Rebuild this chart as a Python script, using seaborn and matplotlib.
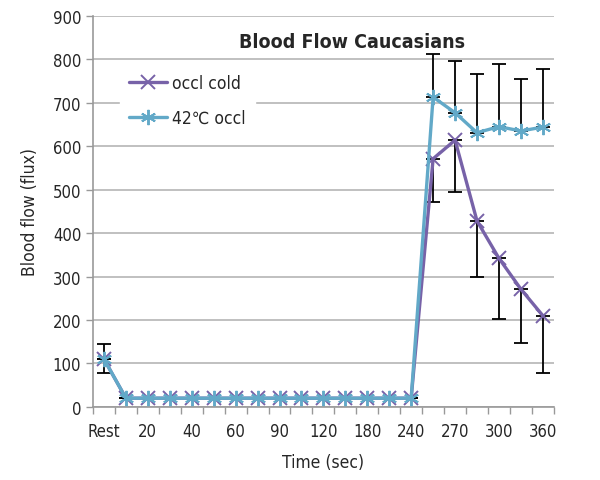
import numpy as np
import pandas as pd
import matplotlib.pyplot as plt
from matplotlib.ticker import FixedLocator
import seaborn as sns

# ── Data ────────────────────────────────────────────────────────────────
tick_labels = ['Rest', '', '20', '', '40', '', '60', '', '90', '', '120', '',
               '180', '', '240', '', '270', '', '300', '', '360']
occl_cold = [110, 20, 20, 20, 20, 20, 20, 20, 20, 20, 20, 20, 20, 20, 20,
             571, 614, 428, 342, 271, 210]
occl_42 = [110, 20, 20, 20, 20, 20, 20, 20, 20, 20, 20, 20, 20, 20, 20,
           713, 677, 631, 645, 635, 644]
cold_err = [32, 0, 0, 0, 0, 0, 0, 0, 0, 0, 0, 0, 0, 0, 0,
            99, 119, 130, 140, 124, 133]
warm_err = [35, 0, 0, 0, 0, 0, 0, 0, 0, 0, 0, 0, 0, 0, 0,
            100, 119, 134, 144, 120, 134]

pos = np.arange(len(tick_labels))

sns.set_style('white')
plt.rcParams['font.family'] = ['DejaVu Sans']
plt.rcParams['font.stretch'] = 'condensed'

fig = plt.figure(figsize=(6, 4.81), dpi=100)
ax = fig.add_axes([0.155, 0.152, 0.768, 0.813])

purple = '#7762a8'
blue = '#62a9c8'

# error bars (cold: minus only, 42°C: plus only)
ax.errorbar(pos, occl_cold, yerr=[cold_err, np.zeros(len(pos))], fmt='none',
            ecolor='black', elinewidth=1.3, capsize=5, capthick=1.3, zorder=2)
ax.errorbar(pos, occl_42, yerr=[np.zeros(len(pos)), warm_err], fmt='none',
            ecolor='black', elinewidth=1.3, capsize=5, capthick=1.3, zorder=2)

sns.lineplot(x=pos, y=occl_cold, color=purple, marker='x', markersize=10,
             markeredgewidth=1.4, markeredgecolor=purple, linewidth=2.4,
             label='occl cold', ax=ax, zorder=3)
sns.lineplot(x=pos, y=occl_42, color=blue, marker=(6, 2, 0), markersize=11,
             markeredgewidth=1.4, markeredgecolor=blue, linewidth=2.4,
             label='42\u2103 occl', ax=ax, zorder=4)

ax.set_xlim(-0.5, len(pos) - 0.5)
ax.set_ylim(0, 900)
ax.set_yticks(np.arange(0, 901, 100))
ax.set_xticks(pos)
ax.set_xticklabels(tick_labels, fontsize=12)
ax.xaxis.set_minor_locator(FixedLocator(np.arange(-0.5, len(pos), 1)))
ax.tick_params(axis='x', which='major', length=0, pad=11)
ax.tick_params(axis='x', which='minor', length=5, color='#999999', width=1,
               direction='out', bottom=True)
ax.tick_params(axis='y', length=5, color='#999999', width=1, labelsize=12,
               direction='out', left=True)

ax.grid(axis='y', color='#b5b5b5', linewidth=1.2)
ax.set_axisbelow(True)
for s in ['top', 'right']:
    ax.spines[s].set_visible(False)
for s in ['left', 'bottom']:
    ax.spines[s].set_color('#999999')
    ax.spines[s].set_linewidth(1.2)

ax.set_xlabel('Time (sec)', fontsize=12.5, labelpad=9)
ax.set_ylabel('Blood flow (flux)', fontsize=12.5, labelpad=10)
ax.text(0.563, 0.935, 'Blood Flow Caucasians', transform=ax.transAxes,
        ha='center', va='center', fontsize=14, fontweight='bold')

leg = ax.legend(loc='upper left', bbox_to_anchor=(0.04, 0.895),
                frameon=True, fontsize=12.5, handlelength=2.2,
                handletextpad=0.3, labelspacing=0.95, borderpad=0.5)
leg.get_frame().set_facecolor('white')
leg.get_frame().set_edgecolor('white')
leg.get_frame().set_alpha(1)

plt.savefig('out.png', dpi=100)
